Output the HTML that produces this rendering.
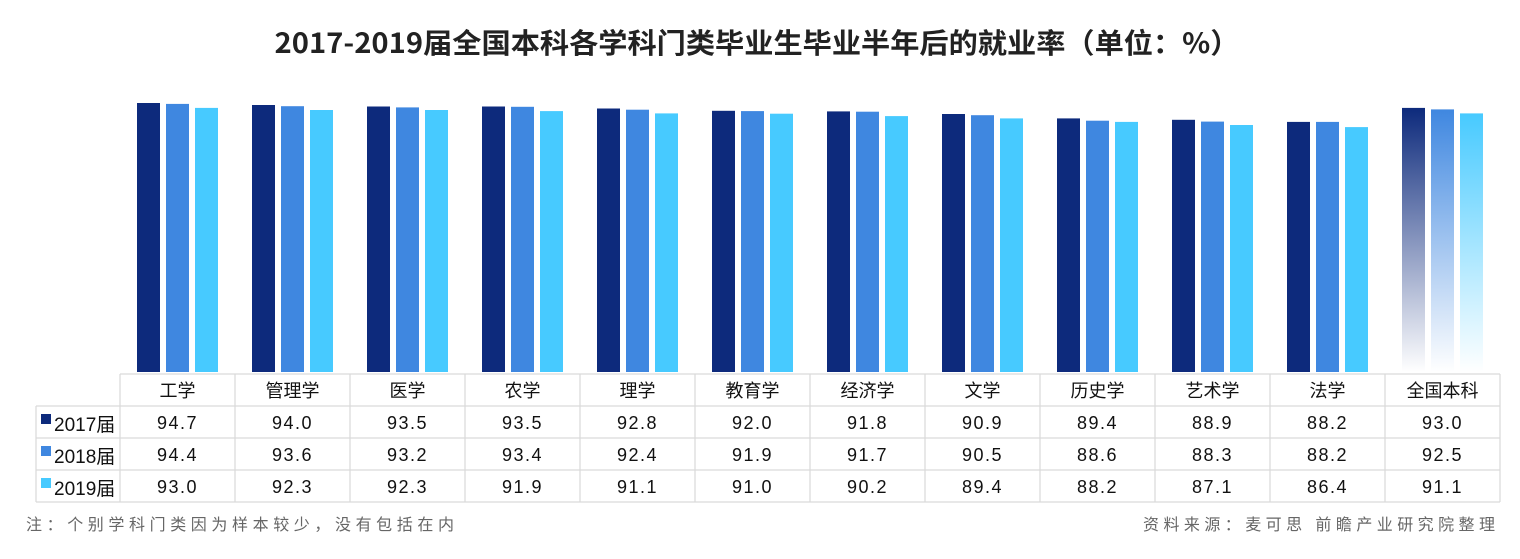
<!DOCTYPE html>
<html><head><meta charset="utf-8"><style>
body{margin:0;width:1520px;height:554px;background:#fff;overflow:hidden;font-family:"Liberation Sans","Noto Sans CJK SC",sans-serif}
svg text{font-family:"Liberation Sans","Noto Sans CJK SC",sans-serif}
</style></head><body>
<svg width="1520" height="554" viewBox="0 0 1520 554" xmlns="http://www.w3.org/2000/svg">
<defs>
<linearGradient id="g1" x1="0" y1="0" x2="0" y2="1"><stop offset="0" stop-color="#0d2a7c"/><stop offset="1" stop-color="#0d2a7c" stop-opacity="0"/></linearGradient>
<linearGradient id="g2" x1="0" y1="0" x2="0" y2="1"><stop offset="0" stop-color="#3f87e0"/><stop offset="1" stop-color="#3f87e0" stop-opacity="0"/></linearGradient>
<linearGradient id="g3" x1="0" y1="0" x2="0" y2="1"><stop offset="0" stop-color="#47caff"/><stop offset="1" stop-color="#47caff" stop-opacity="0"/></linearGradient>
</defs>
<text x="757" y="53" text-anchor="middle" font-size="28" font-weight="bold" fill="#222" style="font-family:'Noto Sans CJK SC',sans-serif" textLength="965" lengthAdjust="spacingAndGlyphs">2017-2019届全国本科各学科门类毕业生毕业半年后的就业率（单位：%）</text>
<g>
<rect x="137" y="103" width="23" height="269" fill="#0d2a7c"/><rect x="166" y="103.9" width="23" height="268.1" fill="#3f87e0"/><rect x="195" y="107.9" width="23" height="264.1" fill="#47caff"/>
<rect x="252" y="105" width="23" height="267" fill="#0d2a7c"/><rect x="281" y="106.2" width="23" height="265.8" fill="#3f87e0"/><rect x="310" y="110" width="23" height="262" fill="#47caff"/>
<rect x="367" y="106.5" width="23" height="265.5" fill="#0d2a7c"/><rect x="396" y="107.4" width="23" height="264.6" fill="#3f87e0"/><rect x="425" y="110" width="23" height="262" fill="#47caff"/>
<rect x="482" y="106.5" width="23" height="265.5" fill="#0d2a7c"/><rect x="511" y="106.8" width="23" height="265.2" fill="#3f87e0"/><rect x="540" y="111.1" width="23" height="260.9" fill="#47caff"/>
<rect x="597" y="108.5" width="23" height="263.5" fill="#0d2a7c"/><rect x="626" y="109.7" width="23" height="262.3" fill="#3f87e0"/><rect x="655" y="113.4" width="23" height="258.6" fill="#47caff"/>
<rect x="712" y="110.8" width="23" height="261.2" fill="#0d2a7c"/><rect x="741" y="111.1" width="23" height="260.9" fill="#3f87e0"/><rect x="770" y="113.7" width="23" height="258.3" fill="#47caff"/>
<rect x="827" y="111.4" width="23" height="260.6" fill="#0d2a7c"/><rect x="856" y="111.7" width="23" height="260.3" fill="#3f87e0"/><rect x="885" y="116.1" width="23" height="255.9" fill="#47caff"/>
<rect x="942" y="114" width="23" height="258" fill="#0d2a7c"/><rect x="971" y="115.2" width="23" height="256.8" fill="#3f87e0"/><rect x="1000" y="118.4" width="23" height="253.6" fill="#47caff"/>
<rect x="1057" y="118.4" width="23" height="253.6" fill="#0d2a7c"/><rect x="1086" y="120.7" width="23" height="251.3" fill="#3f87e0"/><rect x="1115" y="121.9" width="23" height="250.1" fill="#47caff"/>
<rect x="1172" y="119.8" width="23" height="252.2" fill="#0d2a7c"/><rect x="1201" y="121.6" width="23" height="250.4" fill="#3f87e0"/><rect x="1230" y="125" width="23" height="247" fill="#47caff"/>
<rect x="1287" y="121.9" width="23" height="250.1" fill="#0d2a7c"/><rect x="1316" y="121.9" width="23" height="250.1" fill="#3f87e0"/><rect x="1345" y="127.1" width="23" height="244.9" fill="#47caff"/>
<rect x="1402" y="107.9" width="23" height="264.1" fill="url(#g1)"/><rect x="1431" y="109.4" width="23" height="262.6" fill="url(#g2)"/><rect x="1460" y="113.4" width="23" height="258.6" fill="url(#g3)"/>
</g>
<g stroke="#d9d9d9" stroke-width="1.2" fill="none">
<line x1="120" y1="374" x2="1500" y2="374"/>
<line x1="36" y1="406" x2="1500" y2="406"/>
<line x1="36" y1="438" x2="1500" y2="438"/>
<line x1="36" y1="470" x2="1500" y2="470"/>
<line x1="36" y1="502" x2="1500" y2="502"/>
<line x1="36" y1="406" x2="36" y2="502"/>
<line x1="120" y1="374" x2="120" y2="502"/><line x1="235" y1="374" x2="235" y2="502"/><line x1="350" y1="374" x2="350" y2="502"/><line x1="465" y1="374" x2="465" y2="502"/><line x1="580" y1="374" x2="580" y2="502"/><line x1="695" y1="374" x2="695" y2="502"/><line x1="810" y1="374" x2="810" y2="502"/><line x1="925" y1="374" x2="925" y2="502"/><line x1="1040" y1="374" x2="1040" y2="502"/><line x1="1155" y1="374" x2="1155" y2="502"/><line x1="1270" y1="374" x2="1270" y2="502"/><line x1="1385" y1="374" x2="1385" y2="502"/><line x1="1500" y1="374" x2="1500" y2="502"/>
</g>
<g font-size="18" fill="#111" text-anchor="middle">
<text x="177.5" y="397">工学</text><text x="292.5" y="397">管理学</text><text x="407.5" y="397">医学</text><text x="522.5" y="397">农学</text><text x="637.5" y="397">理学</text><text x="752.5" y="397">教育学</text><text x="867.5" y="397">经济学</text><text x="982.5" y="397">文学</text><text x="1097.5" y="397">历史学</text><text x="1212.5" y="397">艺术学</text><text x="1327.5" y="397">法学</text><text x="1442.5" y="397">全国本科</text>
</g>
<g font-size="18" fill="#111" text-anchor="middle" letter-spacing="1.5">
<text y="429"><tspan x="177.5">94.7</tspan><tspan x="292.5">94.0</tspan><tspan x="407.5">93.5</tspan><tspan x="522.5">93.5</tspan><tspan x="637.5">92.8</tspan><tspan x="752.5">92.0</tspan><tspan x="867.5">91.8</tspan><tspan x="982.5">90.9</tspan><tspan x="1097.5">89.4</tspan><tspan x="1212.5">88.9</tspan><tspan x="1327.5">88.2</tspan><tspan x="1442.5">93.0</tspan></text>
<text y="461"><tspan x="177.5">94.4</tspan><tspan x="292.5">93.6</tspan><tspan x="407.5">93.2</tspan><tspan x="522.5">93.4</tspan><tspan x="637.5">92.4</tspan><tspan x="752.5">91.9</tspan><tspan x="867.5">91.7</tspan><tspan x="982.5">90.5</tspan><tspan x="1097.5">88.6</tspan><tspan x="1212.5">88.3</tspan><tspan x="1327.5">88.2</tspan><tspan x="1442.5">92.5</tspan></text>
<text y="493"><tspan x="177.5">93.0</tspan><tspan x="292.5">92.3</tspan><tspan x="407.5">92.3</tspan><tspan x="522.5">91.9</tspan><tspan x="637.5">91.1</tspan><tspan x="752.5">91.0</tspan><tspan x="867.5">90.2</tspan><tspan x="982.5">89.4</tspan><tspan x="1097.5">88.2</tspan><tspan x="1212.5">87.1</tspan><tspan x="1327.5">86.4</tspan><tspan x="1442.5">91.1</tspan></text>
</g>
<rect x="41" y="414" width="10" height="10" fill="#0d2a7c"/>
<rect x="41" y="446" width="10" height="10" fill="#3f87e0"/>
<rect x="41" y="478" width="10" height="10" fill="#47caff"/>
<g font-size="19" fill="#111">
<text x="54" y="431">2017届</text><text x="54" y="463">2018届</text><text x="54" y="495">2019届</text>
</g>
<text x="26" y="530" font-size="16" fill="#666" textLength="428" lengthAdjust="spacing">注：个别学科门类因为样本较少，没有包括在内</text>
<text x="1143" y="530" font-size="16" fill="#666" textLength="352" lengthAdjust="spacing">资料来源：麦可思 前瞻产业研究院整理</text>
</svg>
</body></html>
